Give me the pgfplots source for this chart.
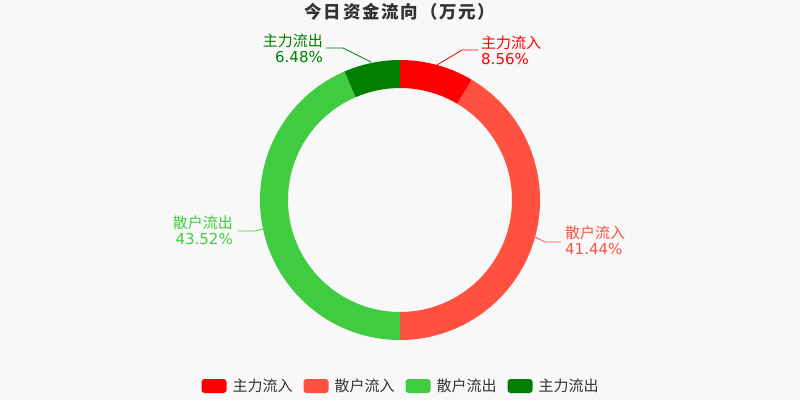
\documentclass[border=0pt]{standalone}
\usepackage{fontspec}
\setmainfont{DejaVu Sans}
\newfontfamily\cjk{Noto Sans CJK SC}
\newfontfamily\cjktitle[LetterSpace=10]{Noto Sans CJK SC}
\usepackage{pgfplots}
\usepackage{pgfplotstable}
\pgfplotsset{compat=1.18}

\definecolor{bg}{HTML}{F8F8F8}
\definecolor{txt}{HTML}{333333}
\definecolor{zlr}{HTML}{FF0000}
\definecolor{shr}{HTML}{FF5040}
\definecolor{shc}{HTML}{40CC40}
\definecolor{zlc}{HTML}{007F00}

% share of each flow, in %
\pgfplotstableread{
name share
zlr 8.56
shr 41.44
shc 43.52
zlc 6.48
}\flowdata

\pgfplotstablegetelem{0}{share}\of\flowdata \let\vA\pgfplotsretval
\pgfplotstablegetelem{1}{share}\of\flowdata \let\vB\pgfplotsretval
\pgfplotstablegetelem{2}{share}\of\flowdata \let\vC\pgfplotsretval
\pgfplotstablegetelem{3}{share}\of\flowdata \let\vD\pgfplotsretval

% angles, clockwise from the top
\pgfmathsetmacro\aA{90}
\pgfmathsetmacro\aB{\aA-3.6*\vA}
\pgfmathsetmacro\aC{\aB-3.6*\vB}
\pgfmathsetmacro\aD{\aC-3.6*\vC}
\pgfmathsetmacro\aE{\aD-3.6*\vD}

\newcommand\ring[3]{% start, end, colour
  \fill[#3] (axis cs:{400+140*cos(#1)},{200+140*sin(#1)})
    arc[start angle=#1, end angle=#2, radius=140bp]
    -- (axis cs:{400+112*cos(#2)},{200+112*sin(#2)})
    arc[start angle=#2, end angle=#1, radius=112bp] -- cycle;}

\begin{document}
\begin{tikzpicture}
\begin{axis}[
    scale only axis, width=800bp, height=400bp,
    xmin=0, xmax=800, ymin=0, ymax=400,
    enlargelimits=false, hide axis, clip=false,
    legend columns=4,
    legend image code/.code={\fill[#1, draw=none, rounded corners=3bp] (0bp,-7bp) rectangle (25bp,7bp);},
    legend style={at={(0.5,0.035)}, anchor=center, draw=none, fill=none,
        font=\cjk\fontsize{15bp}{15bp}\selectfont, text=txt,
        nodes={inner sep=0pt},
        /tikz/every odd column/.append style={column sep=6bp},
        /tikz/every even column/.append style={column sep=11bp}},
]
\fill[bg] (axis cs:0,0) rectangle (axis cs:800,400);

\ring{\aA}{\aB}{zlr}
\ring{\aB}{\aC}{shr}
\ring{\aC}{\aD}{shc}
\ring{\aD}{\aE}{zlc}

\node[txt, font=\cjktitle\bfseries\fontsize{17.5bp}{17.5bp}\selectfont] at (axis cs:400,388) {今日资金流向（万元）};

% labels
\draw[zlr, line width=0.8bp] (axis cs:437,335) -- (axis cs:462,350) -- (axis cs:478,350);
\node[zlr, anchor=west, align=left, inner sep=0pt, font=\fontsize{15bp}{16bp}\selectfont] at (axis cs:481,350)
  {{\cjk 主力流入}\\\vA\%};
\draw[shr, line width=0.8bp] (axis cs:535,163) -- (axis cs:545,158) -- (axis cs:561,158);
\node[shr, anchor=west, align=left, inner sep=0pt, font=\fontsize{15bp}{16bp}\selectfont] at (axis cs:565,160)
  {{\cjk 散户流入}\\\vB\%};
\draw[shc, line width=0.8bp] (axis cs:263,171) -- (axis cs:255,169) -- (axis cs:238,169);
\node[shc, anchor=east, align=right, inner sep=0pt, font=\fontsize{15bp}{16bp}\selectfont] at (axis cs:233,170)
  {{\cjk 散户流出}\\\vC\%};
\draw[zlc, line width=0.8bp] (axis cs:371,338) -- (axis cs:343,352) -- (axis cs:326,352);
\node[zlc, anchor=east, align=right, inner sep=0pt, font=\fontsize{15bp}{16bp}\selectfont] at (axis cs:323,352)
  {{\cjk 主力流出}\\\vD\%};

\addlegendimage{fill=zlr}
\addlegendentry{主力流入}
\addlegendimage{fill=shr}
\addlegendentry{散户流入}
\addlegendimage{fill=shc}
\addlegendentry{散户流出}
\addlegendimage{fill=zlc}
\addlegendentry{主力流出}
\end{axis}
\end{tikzpicture}
\end{document}
